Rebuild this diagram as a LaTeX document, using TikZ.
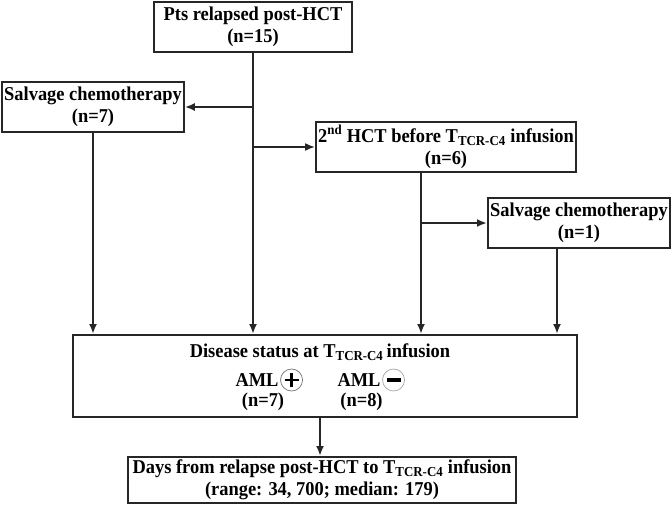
\documentclass[tikz,border=0pt]{standalone}
\usepackage{fontspec}
\setmainfont[FakeStretch=0.94]{Liberation Serif}
\usetikzlibrary{arrows.meta,positioning}
\tikzset{
  box/.style={draw=black!85, line width=2pt, fill=white, inner sep=2pt, align=center,
    font=\bfseries\fontsize{19.6}{22.5}\selectfont},
  lbl/.style={inner sep=0pt, font=\bfseries\fontsize{19.6}{22.5}\selectfont},
  link/.style={draw=black!85, line width=2pt},
  arr/.style={link, -{Latex[length=10pt,width=8pt]}},
  sign/.style={circle, draw=black!55, line width=0.7pt, minimum size=22pt, inner sep=0pt},
  signpos/.style={sign, path picture={
    \draw[draw=black, line width=2.8pt] ([xshift=-7pt]path picture bounding box.center) -- ([xshift=7pt]path picture bounding box.center);
    \draw[draw=black, line width=2.8pt] ([yshift=-7pt]path picture bounding box.center) -- ([yshift=7pt]path picture bounding box.center);}},
  signneg/.style={sign, draw=black!35, path picture={
    \draw[draw=black, line width=3.6pt] ([xshift=-7pt]path picture bounding box.center) -- ([xshift=7pt]path picture bounding box.center);}},
}
\newcommand{\tcr}{T\textsubscript{TCR-C4}}
\begin{document}
\begin{tikzpicture}[x=1pt,y=-1pt]
\useasboundingbox (0,0) rectangle (672,506);
% boxes
\node[box, minimum width=198pt, minimum height=50pt] (pts) at (253,27) {Pts relapsed post-HCT\\(n=15)};
\node[box, minimum width=180pt, minimum height=50pt] (salv1) at (93,107) {Salvage chemotherapy\\(n=7)};
\node[box, minimum width=254pt, minimum height=50pt] (hct) at (446,147) {2\textsuperscript{nd} HCT before \tcr{} infusion\\(n=6)};
\node[box, minimum width=182pt, minimum height=50pt] (salv2) at (579,223) {Salvage chemotherapy\\(n=1)};
\node[box, minimum width=504pt, minimum height=82pt] (status) at (325,376) {};
\node[box, minimum width=388pt, minimum height=46pt] (days) at (322,480) {Days from relapse post-HCT to \tcr{} infusion\\(range: 34, 700; median: 179)};
% status contents
\node[lbl] (stitle) at (320,352) {Disease status at \tcr\,infusion};
\node[lbl] (amlpos) at (257,380) {AML};
\node[signpos, right=1.5pt of amlpos] (pos) {};
\node[lbl] (npos) at (263,402) {(n=7)};
\node[lbl] (amlneg) at (359,380) {AML};
\node[signneg, right=1.5pt of amlneg] (neg) {};
\node[lbl] (nneg) at (361.5,402) {(n=8)};
% connectors
\coordinate (hctout) at (421,172);
\coordinate (salvout) at (557,248);
\coordinate (statout) at (320,417);
\draw[arr] (pts.south) -- (pts.south |- status.north);
\draw[arr] (pts.south |- salv1.east) -- (salv1.east);
\draw[arr] (pts.south |- hct.west) -- (hct.west);
\draw[arr] (salv1.south) -- (salv1.south |- status.north);
\draw[arr] (hctout) -- (hctout |- status.north);
\draw[arr] (hctout |- salv2.west) -- (salv2.west);
\draw[arr] (salvout) -- (salvout |- status.north);
\draw[arr] (statout) -- (statout |- days.north);
\end{tikzpicture}
\end{document}
